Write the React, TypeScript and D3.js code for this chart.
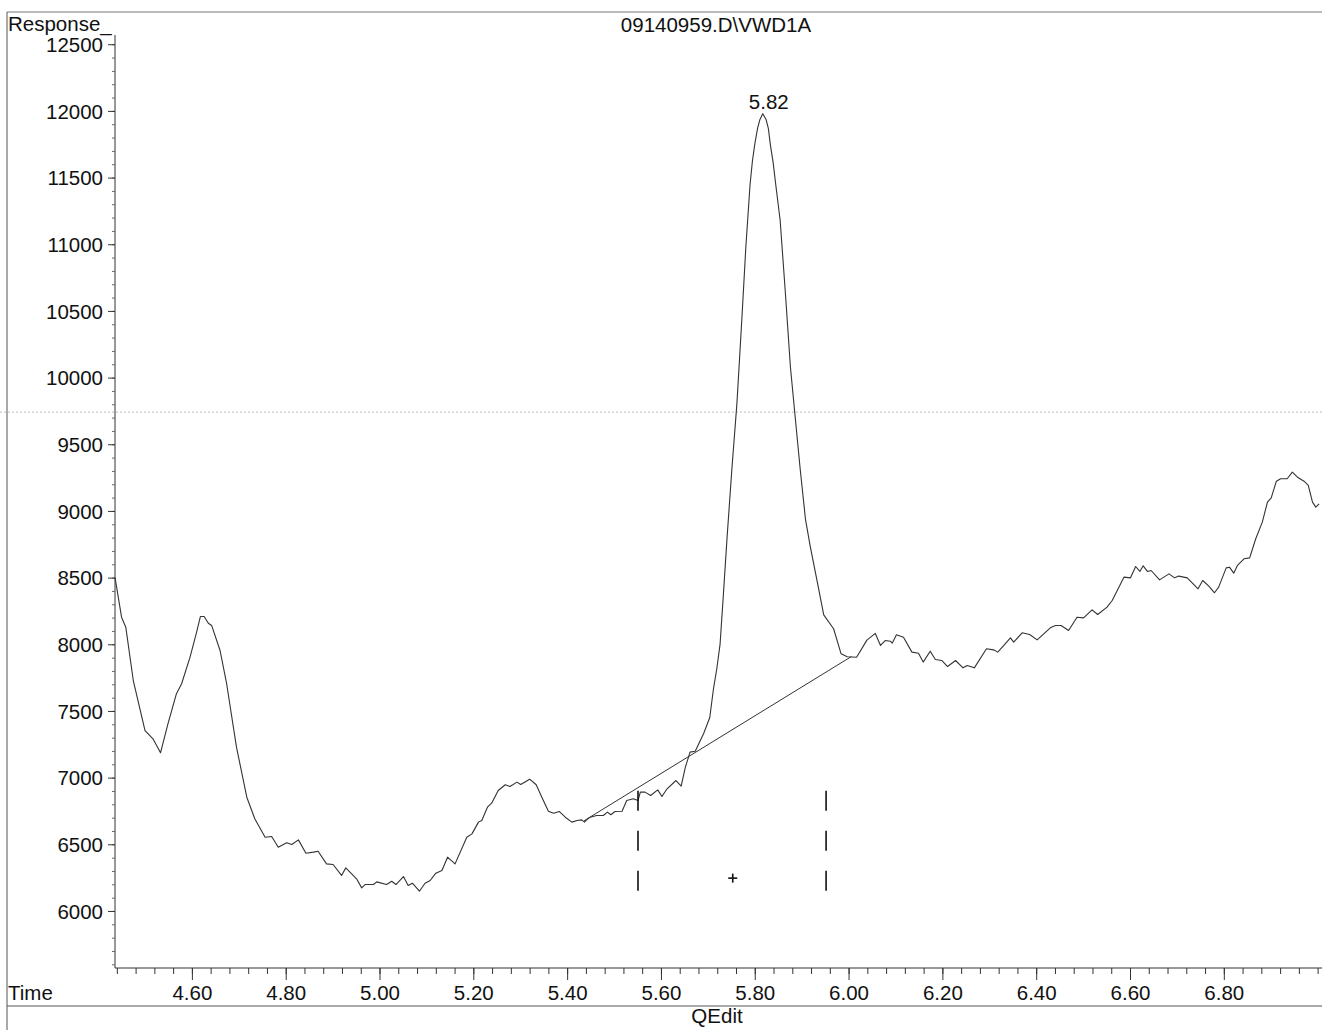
import React from "react";
import * as d3 from "d3";

// ---- data ----
const times = [
  4.435, 4.449, 4.458, 4.474, 4.499, 4.516, 4.532, 4.548, 4.566, 4.577, 4.595, 4.609, 4.617, 4.625,
  4.634, 4.641, 4.659, 4.673, 4.694, 4.716, 4.733, 4.755, 4.769, 4.783, 4.801, 4.812, 4.826, 4.842,
  4.858, 4.868, 4.886, 4.9, 4.918, 4.927, 4.95, 4.961, 4.968, 4.986, 4.993, 5.014, 5.025, 5.034,
  5.05, 5.06, 5.069, 5.084, 5.096, 5.107, 5.119, 5.132, 5.144, 5.16, 5.185, 5.196, 5.21, 5.217,
  5.229, 5.238, 5.252, 5.267, 5.277, 5.292, 5.3, 5.319, 5.333, 5.345, 5.359, 5.37, 5.382, 5.395,
  5.409, 5.42, 5.43, 5.436, 5.44, 5.448, 5.462, 5.476, 5.485, 5.492, 5.501, 5.516, 5.526, 5.54,
  5.55, 5.555, 5.565, 5.577, 5.592, 5.601, 5.612, 5.631, 5.642, 5.651, 5.661, 5.672, 5.69, 5.703,
  5.711, 5.718, 5.725, 5.732, 5.74, 5.75, 5.761, 5.771, 5.78, 5.789, 5.794, 5.799, 5.805, 5.81,
  5.816, 5.823, 5.828, 5.832, 5.838, 5.843, 5.853, 5.864, 5.875, 5.885, 5.896, 5.907, 5.917, 5.932,
  5.946, 5.967, 5.983, 5.996, 6.016, 6.038, 6.056, 6.067, 6.077, 6.088, 6.092, 6.101, 6.116, 6.134,
  6.148, 6.158, 6.173, 6.184, 6.198, 6.21, 6.227, 6.243, 6.252, 6.267, 6.293, 6.308, 6.317, 6.33,
  6.344, 6.351, 6.369, 6.385, 6.401, 6.429, 6.44, 6.452, 6.468, 6.486, 6.5, 6.518, 6.53, 6.55,
  6.561, 6.586, 6.6, 6.611, 6.62, 6.627, 6.636, 6.644, 6.662, 6.682, 6.694, 6.703, 6.721, 6.744,
  6.754, 6.767, 6.779, 6.788, 6.804, 6.811, 6.82, 6.828, 6.842, 6.854, 6.867, 6.881, 6.892, 6.9,
  6.911, 6.92, 6.934, 6.945, 6.956, 6.97, 6.979, 6.988, 6.995, 7.002,
];
const responses = [
  8505, 8207, 8132, 7732, 7357, 7295, 7190, 7408, 7633, 7708, 7907, 8095, 8212, 8212,
  8162, 8145, 7957, 7708, 7232, 6857, 6695, 6557, 6562, 6482, 6515, 6502, 6537, 6437,
  6445, 6452, 6357, 6352, 6270, 6327, 6245, 6177, 6202, 6202, 6222, 6202, 6227, 6202,
  6262, 6195, 6212, 6152, 6212, 6232, 6287, 6307, 6407, 6357, 6557, 6582, 6670, 6682,
  6782, 6812, 6907, 6950, 6937, 6970, 6952, 6992, 6950, 6857, 6752, 6737, 6750, 6707,
  6670, 6682, 6687, 6670, 6685, 6707, 6720, 6720, 6745, 6725, 6750, 6752, 6832, 6845,
  6832, 6895, 6895, 6870, 6912, 6862, 6920, 6982, 6940, 7082, 7195, 7202, 7335, 7455,
  7672, 7820, 8005, 8374, 8809, 9311, 9814, 10417, 10987, 11455, 11630, 11755, 11875, 11940,
  11983, 11940, 11870, 11755, 11620, 11471, 11186, 10650, 10081, 9712, 9311, 8943, 8742, 8475,
  8224, 8120, 7932, 7910, 7907, 8035, 8085, 7995, 8032, 8027, 8012, 8075, 8057, 7945,
  7937, 7870, 7952, 7890, 7882, 7837, 7882, 7827, 7845, 7827, 7970, 7962, 7945, 7995,
  8052, 8020, 8090, 8077, 8037, 8127, 8145, 8145, 8107, 8207, 8202, 8262, 8227, 8282,
  8332, 8507, 8502, 8587, 8550, 8592, 8550, 8557, 8487, 8532, 8502, 8515, 8502, 8420,
  8482, 8440, 8390, 8432, 8577, 8582, 8537, 8595, 8645, 8652, 8795, 8920, 9070, 9102,
  9227, 9245, 9245, 9295, 9257, 9227, 9195, 9070, 9032, 9057,
];

const baselineTimes = [5.435, 6.005];
const baselineValues = [6680, 7912];
const markerTimes = [5.55, 5.951];
const markerRange = [6155, 6905];
const centerMarkTime = [5.752];
const centerMarkValue = [6250];
const peakTimes = [5.816];
const peakValues = [11983];
const peakLabels = ["5.82"];

const xMajorTicks = [4.6, 4.8, 5.0, 5.2, 5.4, 5.6, 5.8, 6.0, 6.2, 6.4, 6.6, 6.8];
const yMajorTicks = [6000, 6500, 7000, 7500, 8000, 8500, 9000, 9500, 10000, 10500, 11000, 11500, 12000, 12500];
const xDomain = [4.435, 7.004];
const yDomain = [5576, 12573];
const scanLineValue = 9745;

const title = "09140959.D\\VWD1A";
const yLabel = "Response_";
const xLabel = "Time";
const footer = "QEdit";

const W = 1322;
const H = 1030;
const FONT = "'Liberation Sans', Arial, sans-serif";
const FS = 20.5;

export default function App() {
  const x = d3.scaleLinear().domain(xDomain).range([115, 1320]);
  const y = d3.scaleLinear().domain(yDomain).range([968, 35]);

  const data = times.map((t, i) => [t, responses[i]] as [number, number]);
  const line = d3.line<[number, number]>().x((d) => x(d[0])).y((d) => y(d[1]));

  const xMinor = d3.range(4.44, 7.001, 0.04);
  const yMinor = d3.range(5600, 12501, 100);

  const ink = "#333";

  return (
    <svg
      width={W}
      height={H}
      style={{ position: "absolute", left: 0, top: 0, background: "#fff" }}
      fontFamily={FONT}
    >
      {/* frame */}
      <line x1={7} x2={W} y1={12} y2={12} stroke="#777" strokeWidth={1} />
      <line x1={7} x2={7} y1={12} y2={H} stroke="#555" strokeWidth={1} />
      <line x1={7} x2={W} y1={1006} y2={1006} stroke="#555" strokeWidth={1} />
      {/* scan line */}
      <line x1={0} x2={W} y1={y(scanLineValue)} y2={y(scanLineValue)} stroke="#bbb" strokeWidth={1} strokeDasharray="2,2" />

      {/* title */}
      <text x={716} y={31.5} textAnchor="middle" fontSize={FS} fill="#111">{title}</text>
      <text x={8} y={31} fontSize={FS} fill="#111">{yLabel}</text>

      {/* y axis */}
      <line x1={115} x2={115} y1={35} y2={968} stroke={ink} strokeWidth={1} />
      {yMinor.map((v) => (
        <line key={"ym" + v} x1={112} x2={115} y1={y(v)} y2={y(v)} stroke="#666" strokeWidth={1} />
      ))}
      {yMajorTicks.map((v) => (
        <g key={"y" + v}>
          <line x1={108} x2={115} y1={y(v)} y2={y(v)} stroke={ink} strokeWidth={1} />
          <text x={103} y={y(v)} dy="0.36em" textAnchor="end" fontSize={FS} fill="#111">{v}</text>
        </g>
      ))}

      {/* x axis */}
      <line x1={115} x2={W} y1={968} y2={968} stroke={ink} strokeWidth={1} />
      {xMinor.map((t) => (
        <line key={"xm" + t.toFixed(2)} x1={x(t)} x2={x(t)} y1={968} y2={974} stroke={ink} strokeWidth={1} />
      ))}
      {xMajorTicks.map((t) => (
        <g key={"x" + t}>
          <line x1={x(t)} x2={x(t)} y1={968} y2={980} stroke={ink} strokeWidth={1} />
          <text x={x(t)} y={999.5} textAnchor="middle" fontSize={FS} fill="#111">{t.toFixed(2)}</text>
        </g>
      ))}
      <text x={8} y={999.5} fontSize={FS} fill="#111">{xLabel}</text>
      <text x={717} y={1023} textAnchor="middle" fontSize={FS} fill="#111">{footer}</text>

      {/* baseline */}
      <line
        x1={x(baselineTimes[0])}
        x2={x(baselineTimes[1])}
        y1={y(baselineValues[0])}
        y2={y(baselineValues[1])}
        stroke={ink}
        strokeWidth={1}
      />

      {/* trace */}
      <path d={line(data) || ""} fill="none" stroke={ink} strokeWidth={1.1} strokeLinejoin="round" />

      {/* integration markers */}
      {markerTimes.map((t) => (
        <line
          key={"mk" + t}
          x1={x(t)}
          x2={x(t)}
          y1={y(markerRange[1])}
          y2={y(markerRange[0])}
          stroke="#111"
          strokeWidth={1.6}
          strokeDasharray="20,20"
        />
      ))}
      {centerMarkTime.map((t, i) => (
        <g key={"cm" + i} stroke="#111" strokeWidth={1.6}>
          <line x1={x(t) - 4.5} x2={x(t) + 4.5} y1={y(centerMarkValue[i])} y2={y(centerMarkValue[i])} />
          <line x1={x(t)} x2={x(t)} y1={y(centerMarkValue[i]) - 4.5} y2={y(centerMarkValue[i]) + 4.5} />
        </g>
      ))}

      {/* peak label */}
      {peakTimes.map((t, i) => (
        <text key={"pk" + i} x={x(t) + 6} y={y(peakValues[i]) - 5} textAnchor="middle" fontSize={FS} fill="#111">
          {peakLabels[i]}
        </text>
      ))}
    </svg>
  );
}
